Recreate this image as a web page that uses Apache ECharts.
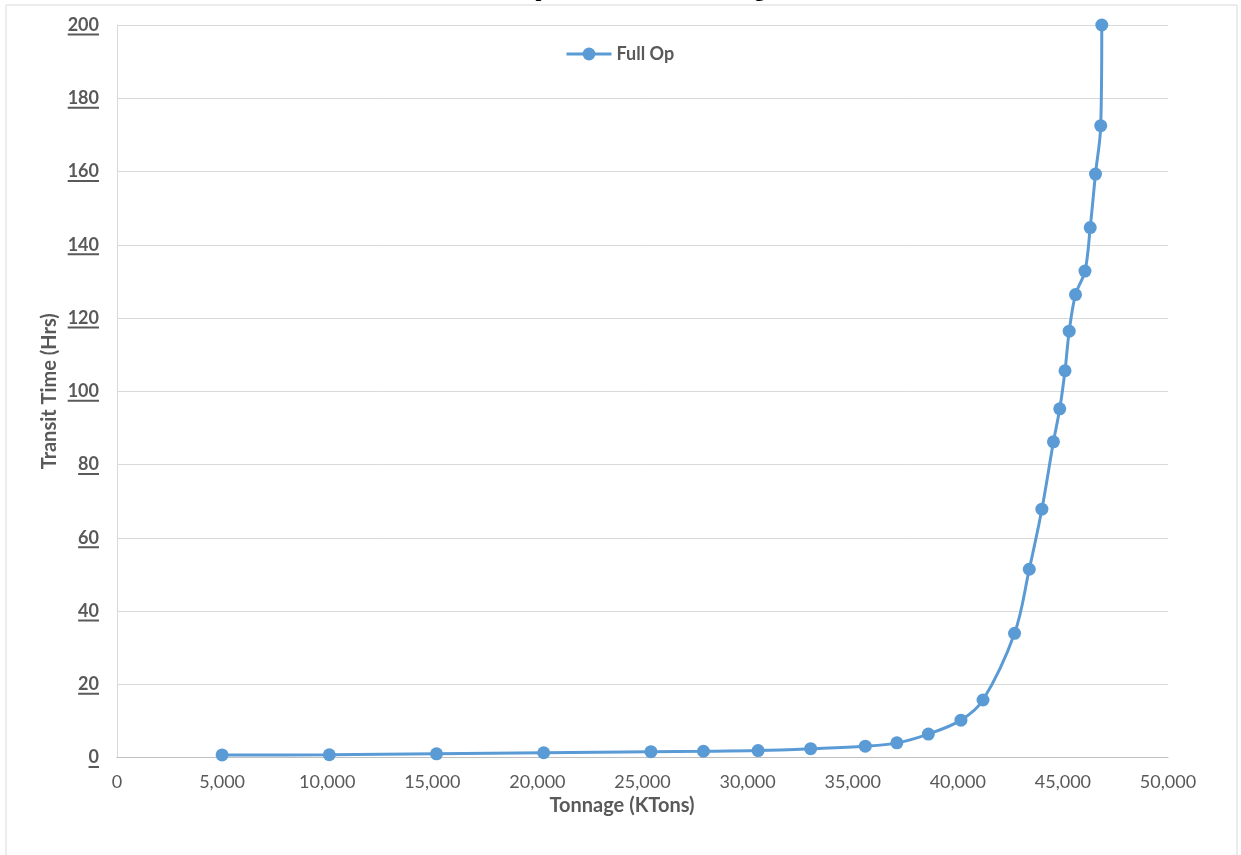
<!DOCTYPE html>
<html>
<head>
<meta charset="utf-8">
<style>
  html, body { margin: 0; padding: 0; background: #ffffff; }
  #chart { width: 1241px; height: 855px; }
</style>
<script src="https://cdn.jsdelivr.net/npm/echarts@6/dist/echarts.min.js"></script>
</head>
<body>
<div id="chart"></div>
<script>
// Tonnage (KTons) and transit time (Hrs) for the full-operation scenario
const tonnage = [5000, 10100, 15200, 20300, 25400, 27900, 30500, 33000, 35600, 37100,
                 38600, 40150, 41200, 42700, 43400, 44000, 44550, 44850, 45100, 45300,
                 45600, 46050, 46300, 46550, 46800, 46850];
const transitHrs = [0.7, 0.75, 1.0, 1.3, 1.6, 1.7, 1.9, 2.4, 3.1, 4.0,
                    6.4, 10.2, 15.7, 33.9, 51.4, 67.8, 86.2, 95.2, 105.6, 116.4,
                    126.4, 132.8, 144.7, 159.3, 172.5, 200];
const seriesName = 'Full Op';
const yTicks = [0, 20, 40, 60, 80, 100, 120, 140, 160, 180, 200];

const chartTitle = 'Full Op Transit Time vs Tonnage';
const xTitle = 'Tonnage (KTons)';
const yTitle = 'Transit Time (Hrs)';

const textGray = '#595959';
const lineBlue = '#5b9bd5';
const yLabelFont = 'bold 18px Lato';

const chart = echarts.init(document.getElementById('chart'));

const option = {
  animation: false,
  backgroundColor: '#ffffff',
  grid: { left: 117, right: 73, top: 25, bottom: 97.5, containLabel: false },
  legend: {
    data: [seriesName],
    left: 560,
    top: 40,
    itemWidth: 45,
    itemHeight: 16,
    itemGap: 10,
    lineStyle: { width: 3 },
    textStyle: { color: textGray, fontFamily: 'Lato', fontWeight: 'bold', fontSize: 18 }
  },
  xAxis: {
    type: 'value',
    min: 0,
    max: 50000,
    interval: 5000,
    axisLine: { show: true, lineStyle: { color: '#bfbfbf', width: 1 } },
    axisTick: { show: false },
    splitLine: { show: false },
    axisLabel: {
      color: textGray,
      fontFamily: 'Lato',
      fontSize: 18,
      margin: 16,
      formatter: v => v.toLocaleString('en-US')
    }
  },
  yAxis: {
    type: 'value',
    min: 0,
    max: 200,
    interval: 20,
    axisLine: { show: true, lineStyle: { color: '#d9d9d9', width: 1 } },
    axisTick: { show: false },
    splitLine: { show: true, lineStyle: { color: '#d9d9d9', width: 1 } },
    axisLabel: {
      color: textGray,
      fontFamily: 'Lato',
      fontWeight: 'bold',
      fontSize: 18,
      margin: 18
    }
  },
  series: [{
    name: seriesName,
    type: 'line',
    data: tonnage.map((t, i) => [t, transitHrs[i]]),
    smooth: 0.35,
    symbol: 'circle',
    symbolSize: 13,
    lineStyle: { color: lineBlue, width: 3 },
    itemStyle: { color: lineBlue },
    z: 3
  }]
};

chart.setOption(option);

// Frame, clipped heading, axis titles and underlined y tick labels
function decorate() {
  const ctx = document.createElement('canvas').getContext('2d');
  ctx.font = yLabelFont;
  const labelRight = 117 - 18;
  const underlines = yTicks.map(v => {
    const y = chart.convertToPixel({ yAxisIndex: 0 }, v);
    const w = ctx.measureText(String(v)).width;
    return {
      type: 'line',
      shape: { x1: labelRight - w, y1: y + 9.5, x2: labelRight, y2: y + 9.5 },
      style: { stroke: textGray, lineWidth: 2 },
      silent: true
    };
  });
  const yMid = chart.convertToPixel({ yAxisIndex: 0 }, 100);
  chart.setOption({
    graphic: [
      {
        type: 'rect',
        shape: { x: 6, y: 5, width: 1231, height: 900 },
        style: { fill: 'none', stroke: '#d9d9d9', lineWidth: 1 },
        silent: true, z: -1
      },
      {
        type: 'text',
        x: 626, y: 1,
        style: {
          text: chartTitle,
          font: 'bold 21px "Liberation Serif"',
          fill: '#000000',
          align: 'center',
          verticalAlign: 'bottom'
        },
        silent: true
      },
      {
        type: 'text',
        x: 622, y: 806,
        style: {
          text: xTitle,
          font: 'bold 20px Lato',
          fill: textGray,
          align: 'center',
          verticalAlign: 'middle'
        },
        silent: true
      },
      {
        type: 'text',
        x: 50, y: yMid,
        rotation: Math.PI / 2,
        style: {
          text: yTitle,
          font: 'bold 20px Lato',
          fill: textGray,
          align: 'center',
          verticalAlign: 'middle'
        },
        silent: true
      }
    ].concat(underlines)
  });
}
decorate();
</script>
</body>
</html>
